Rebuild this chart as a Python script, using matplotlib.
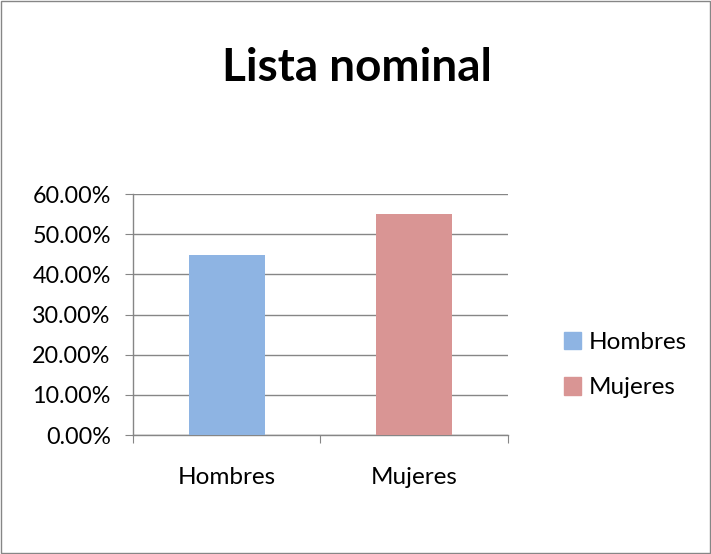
import matplotlib
matplotlib.use("Agg")
import matplotlib.pyplot as plt
from matplotlib.patches import Patch, Rectangle
from matplotlib.ticker import FuncFormatter

categories = ["Hombres", "Mujeres"]
values = [44.9, 55.1]
colors = ["#8EB4E3", "#D99594"]
yticks = [0, 10, 20, 30, 40, 50, 60]

plt.rcParams['font.family'] = ['Lato', 'DejaVu Sans']

fig = plt.figure(figsize=(7.11, 5.54), dpi=100)
ax = fig.add_axes([0.187, 0.2148, 0.5275, 0.435])

x = range(len(categories))
ax.bar(x, values, width=0.405, color=colors, zorder=3)
ax.set_xlim(-0.5, 1.5)
ax.set_ylim(0, 60)
ax.set_yticks(yticks)
ax.yaxis.set_major_formatter(FuncFormatter(lambda v, p: f"{v:.2f}%"))
ax.set_xticks([-0.5, 0.5, 1.5])
ax.set_xticklabels([])
ax.set_xticks(list(x), minor=True)
ax.set_xticklabels(categories, minor=True)
ax.tick_params(axis='x', which='minor', length=0, pad=23, labelsize=17.5)
ax.tick_params(axis='x', which='major', length=6, color='#868686', direction='out')
ax.tick_params(axis='y', length=6, color='#868686', direction='out', labelsize=16.8, pad=10)
ax.grid(axis='y', color='#868686', linewidth=1.0, zorder=0)
for s in ['top', 'right']:
    ax.spines[s].set_visible(False)
for s in ['left', 'bottom']:
    ax.spines[s].set_color('#868686')
    ax.spines[s].set_linewidth(1.0)

fig.text(0.502, 0.877, "Lista nominal", ha='center', va='center', fontsize=33, fontweight='bold')

handles = [Patch(color=c, label=l) for c, l in zip(colors, categories)]
fig.legend(handles=handles, loc='center left', bbox_to_anchor=(0.793, 0.341), frameon=False,
           fontsize=17.5, handlelength=0.72, handleheight=0.72, handletextpad=0.3, labelspacing=1.0,
           borderpad=0, borderaxespad=0)

fig.patches.append(Rectangle((0.001, 0.001), 0.997, 0.997, transform=fig.transFigure,
                             fill=False, edgecolor='#868686', linewidth=1.0))

fig.savefig("out.png", dpi=100)
